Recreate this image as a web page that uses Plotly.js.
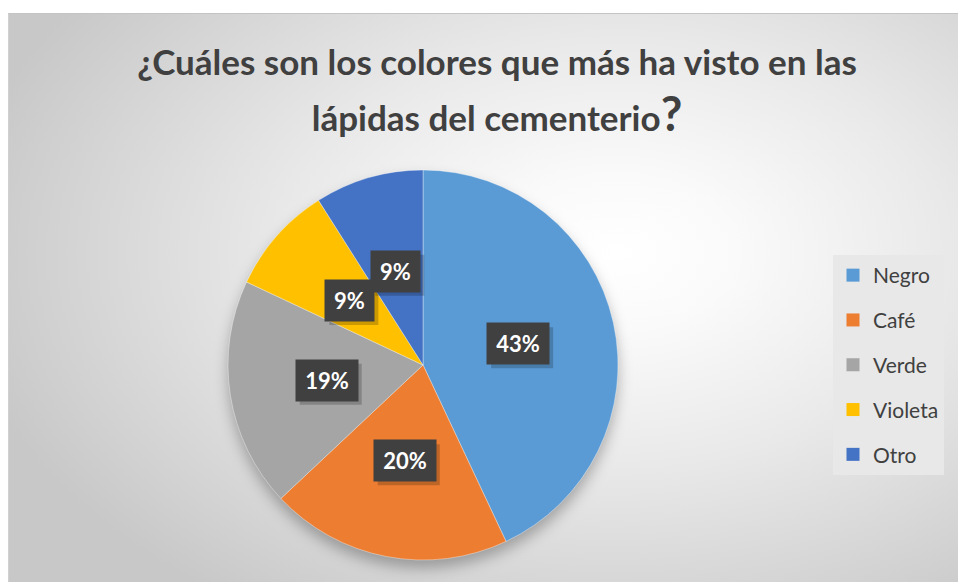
<!DOCTYPE html>
<html>
<head>
<meta charset="utf-8">
<script src="https://cdn.plot.ly/plotly-3.0.1.min.js"></script>
<style>
  html, body { margin: 0; padding: 0; background: #ffffff; }
  #wrap { position: relative; width: 958px; height: 582px; overflow: hidden; background: #ffffff; }
  #panel {
    position: absolute; left: 8px; top: 13px; width: 950px; height: 569px;
    background: radial-gradient(ellipse 70% 75% at 64% 42%, #ffffff 0%, #fafafa 18%, #e9e9e9 50%, #d2d2d2 85%, #c8c8c8 100%);
    border-top: 1px solid #c4c4c4; border-left: 1px solid #d0d0d0; box-sizing: border-box;
  }
  #chart { position: absolute; left: 0; top: 0; width: 958px; height: 582px; }
  #chart .pielayer .trace { filter: drop-shadow(0px 8px 7px rgba(0,0,0,0.28)); }
</style>
</head>
<body>
<div id="wrap">
  <div id="panel"></div>
  <div id="chart"></div>
</div>
<script>
// ---- data ----
const categories = ["Negro", "Café", "Verde", "Violeta", "Otro"];
const values = [43, 20, 19, 9, 9];
const sliceColors = ["#5B9BD5", "#ED7D31", "#A5A5A5", "#FFC000", "#4472C4"];
const titleLine1 = "¿Cuáles son los colores que más ha visto en las";
const titleLine2 = "lápidas del cementerio";

// ---- layout geometry ----
const W = 958, H = 582;
const pieCx = 423, pieCy = 365, pieR = 195;   // pixel centre / radius
const domX = [(pieCx - pieR) / W, (pieCx + pieR) / W];
const domY = [(H - pieCy - pieR) / H, (H - pieCy + pieR) / H];

const total = values.reduce((a, b) => a + b, 0);

const pie = {
  type: "pie",
  labels: categories,
  values: values,
  sort: false,
  direction: "clockwise",
  rotation: 0,
  marker: { colors: sliceColors, line: { color: "rgba(255,255,255,0.6)", width: 0.6 } },
  textinfo: "none",
  hoverinfo: "label+percent",
  showlegend: false,
  domain: { x: domX, y: domY }
};

// legend proxies (one per category) so that items can be spaced like the original
const legendTraces = categories.map((c, i) => ({
  type: "scatter",
  mode: "markers",
  x: [null], y: [null],
  name: c,
  legendgroup: c,
  marker: { symbol: "square", size: 13, color: sliceColors[i] },
  hoverinfo: "skip"
}));

// data labels at half radius along each slice bisector
const annotations = [];
const shapes = [];
const PAD = 8, BOXH = 25;
let cum = 0;
values.forEach((v, i) => {
  const frac = v / total;
  const mid = (cum + frac / 2) * 2 * Math.PI;
  cum += frac;
  const cxp = (domX[0] + domX[1]) / 2, cyp = (domY[0] + domY[1]) / 2;
  const px = cxp + 0.5 * pieR * Math.sin(mid) / W;
  const py = cyp + 0.5 * pieR * Math.cos(mid) / H;
  const txt = Math.round(frac * 100) + "%";
  const digits = txt.length - 1;
  const bw = 13 * digits + 20;
  // drop shadow of the label box
  const hw = (bw / 2 + PAD), hh = (BOXH / 2 + PAD);
  shapes.push({
    type: "rect", xref: "paper", yref: "paper", layer: "above",
    x0: px + (-hw + 4) / W, x1: px + (hw + 4) / W,
    y0: py + (-hh - 4) / H, y1: py + (hh - 4) / H,
    fillcolor: "rgba(0,0,0,0.2)", line: { width: 0 }
  });
  annotations.push({
    xref: "paper", yref: "paper", x: px, y: py,
    xanchor: "center", yanchor: "middle",
    text: "<b>" + txt + "</b>", showarrow: false,
    width: bw, height: BOXH,
    font: { family: "Lato, 'Open Sans', sans-serif", size: 22, color: "#ffffff" },
    bgcolor: "#404040", borderpad: PAD
  });
});

const layout = {
  width: W, height: H,
  margin: { l: 0, r: 0, t: 0, b: 0 },
  paper_bgcolor: "rgba(0,0,0,0)",
  plot_bgcolor: "rgba(0,0,0,0)",
  xaxis: { visible: false, domain: [0.98, 1] },
  yaxis: { visible: false, domain: [0.98, 1] },
  title: {
    text: "<span style='font-size:35px'><b>" + titleLine1 + "</b></span><br>" +
          "<span style='font-size:35px'><b>" + titleLine2 + "</b></span><span style='font-size:47px'><b>?</b></span>",
    font: { family: "Lato, 'Open Sans', sans-serif", size: 43, color: "#404040" },
    x: 497 / W, xanchor: "center", xref: "paper",
    y: 1 - 75 / H, yanchor: "top", yref: "paper"
  },
  showlegend: true,
  legend: {
    x: 833 / W, xanchor: "left",
    y: 1 - 255 / H, yanchor: "top",
    bgcolor: "#e8e8e8",
    font: { family: "Lato, 'Open Sans', sans-serif", size: 21, color: "#404040" },
    tracegroupgap: 14.5,
    itemwidth: 30,
    traceorder: "grouped"
  },
  shapes: shapes,
  annotations: annotations
};

Plotly.newPlot("chart", [pie].concat(legendTraces), layout, { displayModeBar: false, staticPlot: true });
</script>
</body>
</html>
